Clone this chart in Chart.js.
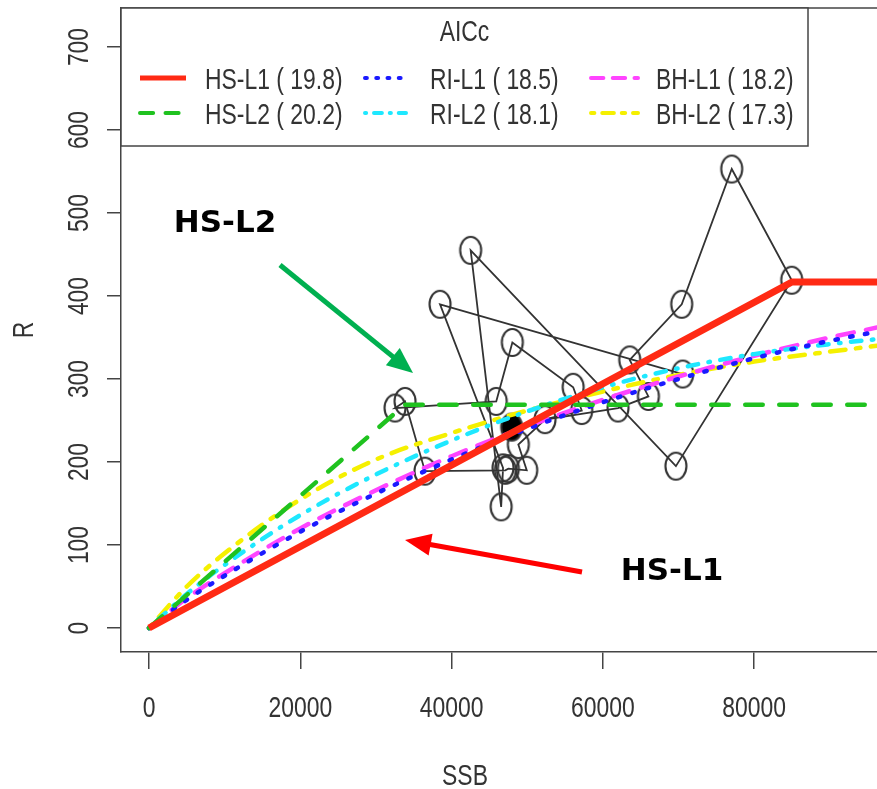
<!DOCTYPE html>
<html><head><meta charset="utf-8">
<script src="https://cdn.jsdelivr.net/npm/chart.js@4.4.1/dist/chart.umd.min.js"></script>
<style>html,body{margin:0;padding:0;background:#fff;overflow:hidden}</style>
</head><body>
<canvas id="c" width="877" height="789"></canvas>
<script>
const FONT = "'Liberation Sans', Arial, sans-serif";
const NARROW = 0.79;

// Observed SSB / recruitment pairs, in time order (last one is the filled point)
const ssbObs = [70550, 38470, 46800, 46550, 42520, 69650, 84960, 77030, 70420, 63540, 66010, 62000, 52350, 48820, 49930, 47500, 47100, 36480, 33840, 32520, 45900, 48030, 56070, 57200, 47940];
const rObs   = [306, 390, 193, 146, 455, 195, 419, 553, 390, 323, 279, 265, 251, 221, 190, 192, 190, 189, 273, 265, 273, 344, 290, 262, 242];

// Fitted curves
const curveSSB = [0, 5000, 10000, 20000, 30000, 40000, 50000, 60000, 70000, 80000, 90000, 96230];
const riL1 = [0, 34, 63, 116, 162, 203, 240, 272, 300, 325, 346, 357];
const riL2 = [0, 41, 76, 136, 185, 226, 261, 290, 313, 330, 342, 348];
const bhL1 = [0, 36, 66, 120, 166, 207, 243, 275, 303, 328, 350, 362];
const bhL2 = [0, 50, 90, 155, 203, 235, 262, 285, 305, 321, 333, 340];
const hsL1SSB = [0, 85000, 100000];
const hsL1R   = [0, 417, 417];
const hsL2SSB = [0, 33800, 100000];
const hsL2R   = [0, 269, 269];

const modelNames = ['HS-L1', 'HS-L2', 'RI-L1', 'RI-L2', 'BH-L1', 'BH-L2'];
const aiccValues = [19.8, 20.2, 18.5, 18.1, 18.2, 17.3];

const xTicks = [0, 20000, 40000, 60000, 80000];
const yTicks = [0, 100, 200, 300, 400, 500, 600, 700];

const pts = (xs, ys) => xs.map((v, i) => ({x: v, y: ys[i]}));

function ellipseImg(filled) {
  const c = document.createElement('canvas');
  c.width = 26; c.height = 31;
  const g = c.getContext('2d');
  g.beginPath();
  g.ellipse(13, 15.5, 10.5, 13.5, 0, 0, Math.PI * 2);
  if (filled) { g.fillStyle = '#000'; g.fill(); }
  g.strokeStyle = '#333'; g.lineWidth = 2.1; g.stroke();
  return c;
}
const openPt = ellipseImg(false), fullPt = ellipseImg(true);

const styles = [
  {color: '#ff2a14', width: 7, dash: [], cap: 'butt'},
  {color: '#1fc21f', width: 4.5, dash: [17.5, 16.5], cap: 'round'},
  {color: '#1a1aff', width: 4.5, dash: [2.5, 12.5], cap: 'round'},
  {color: '#1ee8ff', width: 4.5, dash: [1.5, 10.5, 10.5, 10.5], cap: 'round'},
  {color: '#ff44ff', width: 4.5, dash: [16.5, 12.5], cap: 'round'},
  {color: '#f5f000', width: 4.5, dash: [4.5, 10.5, 15.5, 10.5], cap: 'round'}
];
const curveData = [pts(hsL1SSB, hsL1R), pts(hsL2SSB, hsL2R), pts(curveSSB, riL1), pts(curveSSB, riL2), pts(curveSSB, bhL1), pts(curveSSB, bhL2)];

const datasets = modelNames.map((n, i) => ({
  label: n, data: curveData[i], borderColor: styles[i].color, borderWidth: styles[i].width,
  borderDash: styles[i].dash, borderCapStyle: styles[i].cap, pointRadius: 0,
  cubicInterpolationMode: i >= 2 ? 'monotone' : 'default', tension: 0, fill: false
}));
datasets.push({
  label: 'obs', data: pts(ssbObs, rObs), borderColor: '#333', borderWidth: 1.8,
  pointStyle: ssbObs.map((v, i) => i === ssbObs.length - 1 ? fullPt : openPt),
  pointRadius: 11, fill: false, tension: 0
});

const annotations = {
  texts: [{text: 'HS-L2', x: 10046, y: 486.7}, {text: 'HS-L1', x: 69134, y: 67.5}],
  arrows: [
    {x1: 17317, y1: 437.3, x2: 34898, y2: 307.2, color: '#00b050'},
    {x1: 57237, y1: 67.5, x2: 33840, y2: 106, color: '#ff0000'}
  ]
};

function arrow(ctx, x1, y1, x2, y2, color, w, hl, hw) {
  const a = Math.atan2(y2 - y1, x2 - x1);
  const bx = x2 - Math.cos(a) * hl, by = y2 - Math.sin(a) * hl;
  ctx.strokeStyle = color; ctx.fillStyle = color; ctx.lineWidth = w; ctx.lineCap = 'butt';
  ctx.beginPath(); ctx.moveTo(x1, y1); ctx.lineTo(bx + Math.cos(a) * 2, by + Math.sin(a) * 2); ctx.stroke();
  ctx.beginPath();
  ctx.moveTo(x2, y2);
  ctx.lineTo(bx + Math.sin(a) * hw / 2, by - Math.cos(a) * hw / 2);
  ctx.lineTo(bx - Math.sin(a) * hw / 2, by + Math.cos(a) * hw / 2);
  ctx.closePath(); ctx.fill();
}

// narrow (R device style) text
function ntext(ctx, s, x, y, rot, align) {
  ctx.save(); ctx.translate(x, y); if (rot) ctx.rotate(rot); ctx.scale(NARROW, 1);
  ctx.textAlign = align; ctx.textBaseline = 'alphabetic'; ctx.fillText(s, 0, 0); ctx.restore();
}

const overlay = {
  id: 'overlay',
  afterDatasetsDraw(chart) {
    const {ctx, chartArea: ca, scales: {x, y}} = chart;
    ctx.save();
    ctx.strokeStyle = '#444'; ctx.lineWidth = 1.5;
    ctx.beginPath(); ctx.moveTo(ca.left, ca.top); ctx.lineTo(ca.right, ca.top); ctx.stroke();
    ctx.fillStyle = '#333'; ctx.font = '29px ' + FONT;
    // tick labels from the library's scales
    x.ticks.forEach(t => ntext(ctx, String(t.value), x.getPixelForValue(t.value), 717, 0, 'center'));
    y.ticks.forEach(t => ntext(ctx, String(t.value), 88, y.getPixelForValue(t.value), -Math.PI / 2, 'center'));
    // axis titles
    ntext(ctx, 'SSB', 465, 785, 0, 'center');
    ntext(ctx, 'R', 33, (ca.top + ca.bottom) / 2, -Math.PI / 2, 'center');
    // legend box
    const L = ca.left, T = ca.top, R = 808, B = 146;
    ctx.fillStyle = '#fff'; ctx.fillRect(L, T, R - L, B - T);
    ctx.strokeStyle = '#444'; ctx.lineWidth = 1.5; ctx.strokeRect(L, T, R - L, B - T);
    ctx.fillStyle = '#333';
    ntext(ctx, 'AICc', (L + R) / 2, 41, 0, 'center');
    const colLine = [[140, 186], [365, 406], [591, 638]], colText = [205, 430, 656], rowY = [78, 113];
    modelNames.forEach((n, i) => {
      const col = Math.floor(i / 2), row = i % 2, st = styles[i];
      ctx.save();
      ctx.strokeStyle = st.color; ctx.lineWidth = i === 0 ? 5 : 4; ctx.lineCap = st.cap;
      ctx.setLineDash(st.dash.map(d => d * 0.75));
      ctx.beginPath(); ctx.moveTo(colLine[col][0], rowY[row]); ctx.lineTo(colLine[col][1], rowY[row]); ctx.stroke();
      ctx.restore();
      ntext(ctx, n + ' ( ' + aiccValues[i].toFixed(1) + ')', colText[col], rowY[row] + 11, 0, 'left');
    });
    // annotations
    annotations.arrows.forEach(a => arrow(ctx, x.getPixelForValue(a.x1), y.getPixelForValue(a.y1), x.getPixelForValue(a.x2), y.getPixelForValue(a.y2), a.color, 5, 26, 22));
    ctx.fillStyle = '#000'; ctx.font = "bold 31px 'DejaVu Sans', Verdana, sans-serif";
    ctx.textAlign = 'center'; ctx.textBaseline = 'middle';
    annotations.texts.forEach(t => ctx.fillText(t.text, x.getPixelForValue(t.x), y.getPixelForValue(t.y)));
    ctx.restore();
  }
};

new Chart(document.getElementById('c'), {
  type: 'line',
  data: {datasets},
  plugins: [overlay],
  options: {
    responsive: false, animation: false, devicePixelRatio: 1,
    layout: {autoPadding: false, padding: {top: 8, left: 0, right: 0, bottom: 0}},
    plugins: {legend: {display: false}, tooltip: {enabled: false}},
    scales: {
      x: {
        type: 'linear', min: -3701, max: 96230,
        afterBuildTicks: s => { s.ticks = xTicks.map(v => ({value: v})); },
        afterFit: s => { s.height = 137; s.paddingLeft = 0; s.paddingRight = 0; },
        grid: {display: true, drawOnChartArea: false, tickLength: 17, color: '#444', lineWidth: 1.5},
        border: {display: true, color: '#444', width: 1.5},
        ticks: {display: false},
        title: {display: false}
      },
      y: {
        type: 'linear', min: -28.9, max: 747,
        afterBuildTicks: s => { s.ticks = yTicks.map(v => ({value: v})); },
        afterFit: s => { s.width = 121; s.paddingTop = 0; s.paddingBottom = 0; },
        grid: {display: true, drawOnChartArea: false, tickLength: 14, color: '#444', lineWidth: 1.5},
        border: {display: true, color: '#444', width: 1.5},
        ticks: {display: false},
        title: {display: false}
      }
    }
  }
});
</script>
</body></html>
